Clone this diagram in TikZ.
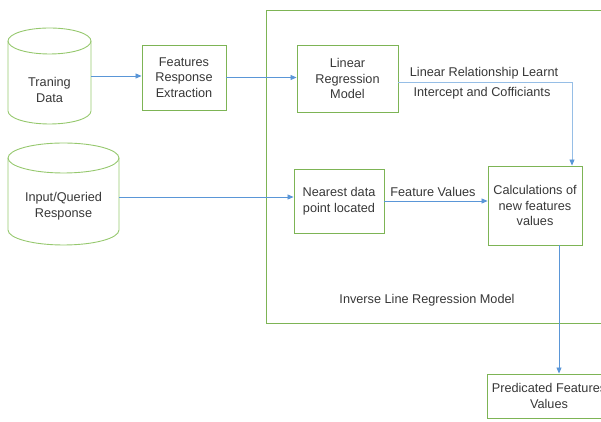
\documentclass[tikz,border=0pt]{standalone}
\usepackage{fontspec}
\setmainfont{Liberation Sans}
\usetikzlibrary{arrows.meta}

\definecolor{boxgreen}{RGB}{125,180,85}
\definecolor{cylgreen}{RGB}{150,200,110}
\definecolor{arrblue}{RGB}{90,150,215}
\definecolor{lineblue}{RGB}{150,190,230}
\definecolor{txtgray}{RGB}{55,55,55}

\tikzset{
  block/.style={draw=boxgreen, line width=0.9pt, align=center, inner sep=0pt, text=txtgray},
  store/.style={draw=none, inner sep=0pt},
  arr/.style={draw=arrblue, line width=0.8pt, -{Triangle[length=6pt,width=5pt]}},
  lbl/.style={text=txtgray, align=center}
}

% cylinder: centre x, top, bottom, x radius, y radius
\newcommand{\drumshape}[5]{%
  \draw[cylgreen, line width=0.9pt] (#1-#4, #2-#5) -- (#1-#4, #3+#5) arc (180:360:#4 and #5) -- (#1+#4, #2-#5);
  \draw[cylgreen, line width=0.9pt] (#1, #2-#5) ellipse (#4 and #5);
}

\begin{document}
\begin{tikzpicture}[x=1pt, y=1pt]\fontsize{12.7}{15.5}\selectfont

			\useasboundingbox (0, 0) rectangle (601, 422);

			% outer frame of the inverse model
			\draw[boxgreen, line width=0.9pt] (266, 412) rectangle (625, 99);
			\node[lbl] (frame) at (427, 122) {Inverse Line Regression Model};

			\drumshape{49.5}{394}{298}{41.5}{13}
			\node[store, minimum width=83pt, minimum height=96pt] (tdata) at (49.5, 346) {};
			\node[lbl] (tdatatxt) at (49.5, 332) {Traning\\Data};
			\drumshape{63.5}{279}{177}{55.5}{15}
			\node[store, minimum width=111pt, minimum height=102pt] (input) at (63.5, 228) {};
			\node[lbl] (inputtxt) at (63.5, 216) {Input/Queried\\Response};

			\node[block, minimum width=84pt, minimum height=65pt] (fre) at (184, 344.5) {Features\\Response\\Extraction};
			\node[block, minimum width=101pt, minimum height=67pt] (lrm) at (347.5, 343.5) {Linear\\Regression\\Model};
			\node[block, minimum width=90pt, minimum height=64pt] (ndp) at (339, 221) {Nearest data\\point located};
			\node[block, minimum width=94pt, minimum height=79pt] (calc) at (535, 216.5) {Calculations of\\new features\\values};
			\node[block, minimum width=124pt, minimum height=44pt] (pred) at (549, 26) {Predicated Features\\Values};

			\draw[arr] (tdata.east) -- (tdata.east -| fre.west);
			\draw[arr] (fre.east) -- (fre.east -| lrm.west);

			\coordinate (lrmout) at ([yshift=-4pt]lrm.east);
			\coordinate (calcin) at ([xshift=37pt]calc.north);
			\draw[lineblue, line width=0.9pt] (lrmout) -| ([yshift=5pt]calcin);
			\draw[arr] ([yshift=5pt]calcin) -- (calcin);
			\node[lbl] (rel) at (484, 349) {Linear Relationship Learnt};
			\node[lbl] (coef) at (482, 329) {Intercept and Cofficiants};

			\coordinate (ndpin) at ([yshift=4pt]ndp.west);
			\draw[arr] (input.east |- ndpin) -- (ndpin);
			\draw[arr] (ndp.east) -- (ndp.east -| calc.west);
			\node[lbl] (fv) at (433, 230) {Feature Values};

			\coordinate (calcout) at ([xshift=24pt]calc.south);
			\draw[arr] (calcout) -- (calcout |- pred.north);
		\end{tikzpicture}
\end{document}
